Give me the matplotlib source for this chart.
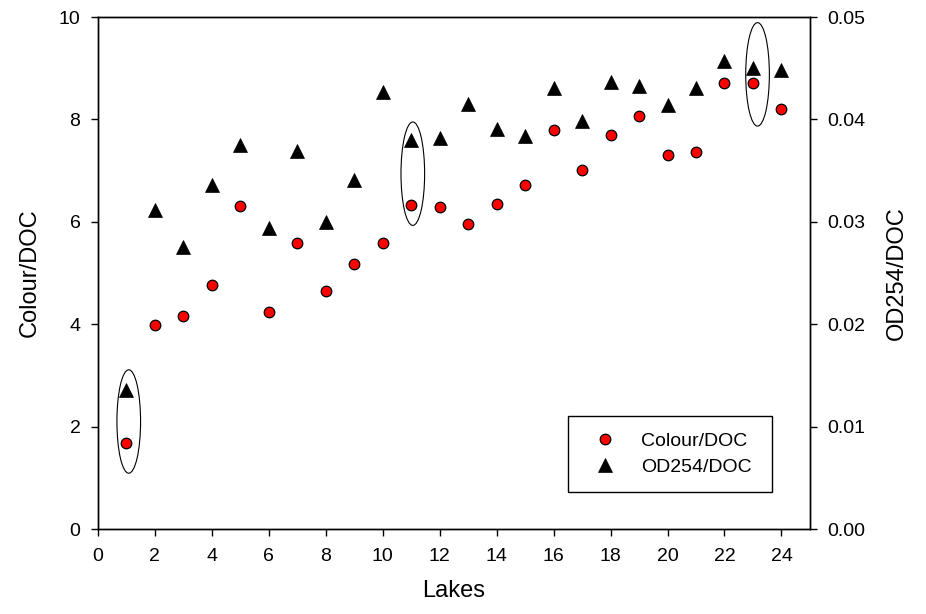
import matplotlib
matplotlib.use("Agg")
import matplotlib.pyplot as plt
from matplotlib.patches import Ellipse
from matplotlib.lines import Line2D

plt.rcParams['font.family'] = ['Liberation Sans', 'DejaVu Sans']

lakes = list(range(1, 25))
colour_doc = [1.68, 3.98, 4.17, 4.77, 6.31, 4.23, 5.58, 4.64, 5.18, 5.58, 6.33, 6.28,
              5.96, 6.35, 6.72, 7.79, 7.01, 7.69, 8.07, 7.30, 7.36, 8.72, 8.72, 8.21]
od254_doc = [0.0136, 0.0312, 0.0275, 0.0336, 0.0375, 0.0294, 0.0369, 0.0300, 0.0341, 0.0427, 0.0380, 0.0382,
             0.0415, 0.0391, 0.0384, 0.0431, 0.0398, 0.0437, 0.0433, 0.0414, 0.0431, 0.0457, 0.0450, 0.0448]

# highlighted lakes (ellipse centres on left-axis scale)
ell_x = [1.09, 11.06, 23.16]
ell_y = [2.10, 6.94, 8.88]

left_ticks = [0, 2, 4, 6, 8, 10]
right_ticks = [0.00, 0.01, 0.02, 0.03, 0.04, 0.05]
x_ticks = list(range(0, 25, 2))

fig = plt.figure(figsize=(9.26, 6.14), dpi=100)
ax1 = fig.add_axes([0.1055, 0.1384, 0.7692, 0.8339])
ax2 = ax1.twinx()

ax1.set_xlim(0, 25)
ax1.set_ylim(0, 10)
ax2.set_ylim(0, 0.05)

for i in range(len(ell_x)):
    ax1.add_patch(Ellipse((ell_x[i], ell_y[i]), 0.83, 2.02, fill=False,
                          edgecolor='black', linewidth=0.8, zorder=1))

ax1.plot(lakes, colour_doc, linestyle='none', marker='o', markersize=7.6,
         markerfacecolor='#ff0000', markeredgecolor='black', markeredgewidth=0.9, zorder=3)
ax2.plot(lakes, od254_doc, linestyle='none', marker='^', markersize=9.5,
         markerfacecolor='black', markeredgecolor='black', markeredgewidth=0.5, zorder=3)

ax1.set_xticks(x_ticks)
ax1.set_yticks(left_ticks)
ax2.set_yticks(right_ticks)
ax2.set_yticklabels([f"{v:.2f}" for v in right_ticks])
ax1.set_xticklabels([str(v) for v in x_ticks])
ax1.set_yticklabels([str(v) for v in left_ticks])

ax1.tick_params(axis='x', direction='out', length=5, width=1, labelsize=14, pad=8.5)
ax1.tick_params(axis='y', direction='out', length=5, width=1, labelsize=14, pad=7.4)
ax2.tick_params(axis='y', direction='out', length=5, width=1, labelsize=14, pad=7.2)

for ax in (ax1, ax2):
    for s in ax.spines.values():
        s.set_linewidth(1.0)
        s.set_color('black')

ax1.set_xlabel('Lakes', fontsize=17, labelpad=11)
ax1.set_ylabel('Colour/DOC', fontsize=17, labelpad=13)
ax2.set_ylabel('OD254/DOC', fontsize=17, labelpad=15)

handles = [
    Line2D([], [], linestyle='none', marker='o', markersize=7.6, markerfacecolor='#ff0000',
           markeredgecolor='black', markeredgewidth=0.9),
    Line2D([], [], linestyle='none', marker='^', markersize=9.5, markerfacecolor='black',
           markeredgecolor='black', markeredgewidth=0.5),
]
leg = ax2.legend(handles, ['Colour/DOC', 'OD254/DOC'], loc='center',
                 bbox_to_anchor=(0.660, 0.0723, 0.287, 0.148), mode='expand',
                 fontsize=14, frameon=True, fancybox=False, framealpha=1,
                 edgecolor='black', borderpad=0.85, labelspacing=0.4,
                 handlelength=2.1, handletextpad=0.8, borderaxespad=0)
leg.get_frame().set_linewidth(1.0)

fig.savefig('out.png', dpi=100)
